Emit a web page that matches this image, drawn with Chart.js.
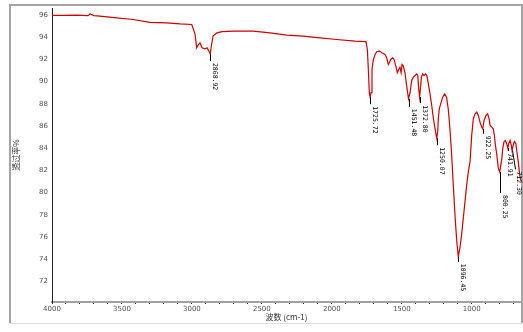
<!DOCTYPE html>
<html>
<head>
<meta charset="utf-8">
<script src="https://cdn.jsdelivr.net/npm/chart.js@4/dist/chart.umd.min.js"></script>
<style>
html,body{margin:0;padding:0;background:#fff;}
canvas{display:block;}
</style>
</head>
<body>
<canvas id="c" width="523" height="332"></canvas>
<script>
// ---- data ----
const wavenumbers = [4000, 3900, 3823, 3743, 3728, 3700, 3657, 3538, 3421, 3300, 3180, 3085, 3001, 2978, 2966, 2956, 2942, 2928, 2906, 2892, 2881, 2869, 2860, 2849, 2821, 2785, 2700, 2563, 2442, 2322, 2206, 2084, 1965, 1834, 1756, 1746, 1739, 1732, 1726, 1720, 1713, 1703, 1691, 1679, 1660, 1643, 1620, 1608, 1596, 1589, 1579, 1565, 1555, 1541, 1532, 1522, 1513, 1505, 1498, 1489, 1477, 1465, 1452, 1441, 1429, 1417, 1405, 1393, 1386, 1379, 1373, 1367, 1360, 1350, 1341, 1331, 1321, 1310, 1298, 1286, 1274, 1262, 1255, 1250, 1243, 1239, 1232, 1222, 1208, 1194, 1180, 1168, 1156, 1144, 1132, 1119, 1107, 1096, 1084, 1072, 1060, 1048, 1036, 1024, 1012, 1000, 989, 976, 964, 953, 941, 929, 922, 912, 898, 886, 876, 869, 857, 846, 839, 831, 821, 810, 800, 785, 778, 769, 760, 750, 742, 736, 726, 718, 712, 705, 695, 685, 675, 665, 656, 648];
const transmittance = [95.97, 95.98, 96.0, 95.95, 96.1, 95.95, 95.9, 95.75, 95.6, 95.35, 95.3, 95.2, 95.15, 94.3, 93.05, 93.3, 93.5, 93.05, 92.96, 93.05, 92.8, 92.5, 93.3, 94.1, 94.4, 94.5, 94.55, 94.55, 94.4, 94.2, 94.1, 93.95, 93.8, 93.65, 93.6, 92.9, 91.1, 89.0, 88.6, 89.0, 91.1, 92.0, 92.45, 92.7, 92.75, 92.6, 92.45, 92.15, 91.55, 91.7, 92.0, 92.15, 92.0, 91.3, 90.8, 91.1, 91.3, 90.8, 91.55, 91.4, 90.8, 89.6, 88.45, 89.0, 90.1, 90.4, 90.55, 90.7, 90.55, 89.35, 88.6, 89.35, 90.4, 90.7, 90.55, 90.7, 90.55, 89.8, 88.9, 87.85, 86.65, 85.75, 85.2, 84.9, 85.5, 86.65, 87.55, 88.0, 88.6, 88.9, 88.6, 87.55, 85.75, 83.5, 80.7, 77.8, 75.6, 74.2, 75.05, 76.25, 77.75, 79.2, 80.7, 81.9, 82.8, 85.2, 86.65, 87.1, 87.25, 86.95, 86.35, 85.9, 85.75, 86.5, 86.95, 87.1, 86.65, 86.05, 85.9, 85.75, 85.2, 84.3, 83.4, 82.2, 81.85, 83.1, 84.0, 84.6, 84.7, 84.4, 84.0, 84.4, 84.7, 84.3, 83.8, 84.2, 84.6, 84.4, 83.5, 82.5, 81.5, 81.0];

const peakLabels = ['2868.92', '1725.72', '1451.48', '1372.80', '1250.07', '1096.45', '922.25', '800.25', '741.91', '712.30'];
const peakWn = [2868.92, 1725.72, 1451.48, 1372.80, 1250.07, 1096.45, 922.25, 800.25, 741.91, 712.30];
const peakT = [92.5, 88.6, 88.45, 88.6, 84.9, 74.2, 85.75, 81.85, 84.0, 83.8];

const xTickValues = [];
for (let v = 700; v <= 4000; v += 100) xTickValues.push(v);
const yTickValues = [72, 74, 76, 78, 80, 82, 84, 86, 88, 90, 92, 94, 96];

// ---- label layout (styling only) ----
const leaderLen = [7, 7, 8, 6, 7, 5, 5, 21, 3, 19];
const textDx = [4, 4, 4, 4, 4, 4, 4, 4, 1.5, 6];

const framePlugin = {
  id: 'frame',
  beforeDraw(chart) {
    const ctx = chart.ctx;
    ctx.save();
    ctx.fillStyle = '#fff';
    ctx.fillRect(0, 0, chart.width, chart.height);
    ctx.strokeStyle = '#a4a4a4';
    ctx.lineWidth = 2;
    ctx.beginPath();
    ctx.moveTo(10, 323); ctx.lineTo(10, 5); ctx.lineTo(522, 5); ctx.lineTo(522, 323);
    ctx.stroke();
    ctx.strokeStyle = '#dedede';
    ctx.lineWidth = 1;
    ctx.beginPath();
    ctx.moveTo(10, 323.5); ctx.lineTo(522, 323.5);
    ctx.stroke();
    ctx.restore();
  }
};

const peakPlugin = {
  id: 'peaks',
  afterDatasetsDraw(chart) {
    const {ctx, scales: {x, y}} = chart;
    ctx.save();
    ctx.font = '6.5px "DejaVu Sans Mono"';
    ctx.fillStyle = '#000';
    ctx.strokeStyle = '#000';
    ctx.lineWidth = 1;
    peakWn.forEach((wn, i) => {
      const px = Math.round(x.getPixelForValue(wn)) + 0.5;
      const py = y.getPixelForValue(peakT[i]);
      const ty = py + leaderLen[i];
      const tx = px + textDx[i];
      ctx.beginPath();
      ctx.moveTo(px, py);
      ctx.lineTo(textDx[i] > 5 ? tx - 3 : px, ty);
      ctx.stroke();
      ctx.save();
      ctx.translate(tx, ty + 2);
      ctx.rotate(Math.PI / 2);
      ctx.textAlign = 'left';
      ctx.textBaseline = 'middle';
      ctx.fillText(peakLabels[i], 0, 0);
      ctx.restore();
    });
    ctx.restore();
  }
};

new Chart(document.getElementById('c'), {
  type: 'line',
  data: {
    datasets: [{
      data: wavenumbers.map((w, i) => ({x: w, y: transmittance[i]})),
      borderColor: '#cc0000',
      borderWidth: 1.2,
      pointRadius: 0,
      tension: 0,
      fill: false
    }]
  },
  options: {
    responsive: false,
    animation: false,
    devicePixelRatio: 1,
    layout: {padding: {top: 5, right: 2, left: 0, bottom: 0}},
    plugins: {legend: {display: false}, tooltip: {enabled: false}},
    scales: {
      x: {
        type: 'linear',
        reverse: true,
        min: 648,
        max: 4000,
        afterFit(s) { s.height = 30; },
        afterBuildTicks(s) { s.ticks = xTickValues.map(v => ({value: v})); },
        border: {display: true, color: '#a0a0a0', width: 2},
        grid: {display: true, drawOnChartArea: false, drawTicks: true, tickLength: 2, color: '#333', lineWidth: 1},
        ticks: {
          autoSkip: false, maxRotation: 0, padding: 1,
          color: '#555',
          font: {family: 'DejaVu Sans', size: 7},
          callback: v => (v % 500 === 0 ? String(v) : '')
        },
        title: {
          display: true, text: '波数 (cm-1)', color: '#333',
          font: {family: '"Noto Sans CJK SC", "DejaVu Sans"', size: 8},
          padding: {top: 0, bottom: 10}
        }
      },
      y: {
        type: 'linear',
        min: 70.13,
        max: 96.62,
        afterFit(s) { s.width = 52; },
        afterBuildTicks(s) { s.ticks = yTickValues.map(v => ({value: v})); },
        border: {display: true, color: '#222', width: 1, dash: [1, 2]},
        grid: {display: true, drawOnChartArea: false, drawTicks: false},
        ticks: {
          padding: 4, color: '#555',
          font: {family: 'DejaVu Sans', size: 7}
        },
        title: {
          display: true, text: '透过率%', color: '#333',
          font: {family: '"Noto Sans CJK SC", "DejaVu Sans"', size: 8},
          padding: {top: 11, bottom: 0}
        }
      }
    }
  },
  plugins: [framePlugin, peakPlugin]
});
</script>
</body>
</html>
